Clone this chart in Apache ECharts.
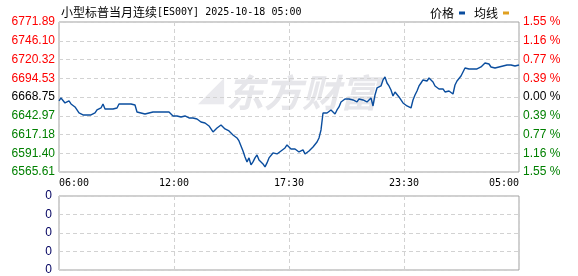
<!DOCTYPE html>
<html><head><meta charset="utf-8">
<script src="https://cdn.jsdelivr.net/npm/echarts@6/dist/echarts.min.js"></script>
<style>html,body{margin:0;padding:0;background:#fff}#c{width:578px;height:276px}</style>
</head><body><div id="c"></div>
<script>
// ---- data ----
var titleName = '小型标普当月连续';
var titleRest = '[ES00Y] 2025-10-18 05:00';
var prevClose = 6668.75;
var maxDiff = 103.14;
var timeLabels = ['06:00', '12:00', '17:30', '23:30', '05:00'];
var priceLabels = ['6565.61', '6591.40', '6617.18', '6642.97', '6668.75', '6694.53', '6720.32', '6746.10', '6771.89'];
var pctLabels = ['1.55 %', '1.16 %', '0.77 %', '0.39 %', '0.00 %', '0.39 %', '0.77 %', '1.16 %', '1.55 %'];
var volLabels = ['0', '0', '0', '0', '0'];
var totalMinutes = 1380;
var stepMinutes = 6;
var prices = [
  // 06:00 -
  6663.29, 6667.41, 6666.03, 6660.54, 6660.54, 6663.29, 6659.16, 6656.41, 6655.04, 6652.29,
  6646.79, 6645.42, 6644.05, 6646.79, 6644.05, 6645.42, 6644.05, 6645.42, 6646.79, 6650.92,
  6652.29, 6653.67, 6659.16, 6652.29, 6652.29, 6652.29, 6650.92, 6652.29, 6652.29, 6653.67,
  6659.16, 6661.91, 6659.16, 6660.54, 6659.16, 6659.16, 6659.16, 6657.79, 6657.79, 6648.17,
  6645.42, 6646.79, 6645.42, 6645.42, 6646.79, 6646.79, 6646.79, 6648.17, 6646.79, 6648.17,
  6646.79, 6648.17, 6646.79, 6648.17, 6646.79, 6648.17, 6645.42, 6642.67, 6642.67, 6642.67,
  6641.30, 6641.30, 6641.30, 6642.67, 6641.30, 6639.92, 6639.92, 6639.92, 6638.55, 6638.55,
  6637.17, 6634.43,
  // ~13:12 -
  6634.43, 6633.05, 6631.68, 6628.93, 6624.81, 6620.68, 6623.43, 6626.18, 6628.93, 6630.30,
  6627.55, 6624.81, 6623.43, 6622.06, 6619.31, 6616.56, 6613.81, 6612.44, 6608.31, 6601.44,
  6594.57, 6586.33, 6579.45, 6584.95, 6575.33, 6579.45, 6584.95, 6589.07, 6582.20, 6580.83,
  6576.71, 6572.58, 6578.08, 6584.95, 6587.70, 6591.82, 6589.07, 6590.45, 6593.20, 6594.57,
  6595.95, 6598.69, 6602.82, 6600.07, 6597.32, 6595.95, 6597.32, 6598.69, 6593.20, 6593.20,
  6595.95, 6590.45, 6589.07, 6594.57, 6597.32, 6600.07, 6602.82, 6606.94, 6612.44, 6623.43,
  6646.79,
  // ~19:18 -
  6649.54, 6646.79, 6649.54, 6650.92, 6648.17, 6645.42, 6650.92, 6655.04, 6661.91, 6664.66,
  6666.03, 6668.78, 6666.03, 6667.41, 6664.66, 6663.29, 6661.91, 6666.03, 6667.41, 6664.66,
  6666.03, 6661.91, 6664.66, 6667.41, 6656.41, 6671.53, 6681.15, 6679.78, 6683.90, 6692.15,
  6696.27, 6688.02, 6683.90, 6678.40, 6670.16, 6675.65, 6674.28, 6668.78, 6664.66, 6660.54,
  6659.16, 6656.41, 6655.04, 6653.67, 6664.66, 6671.53, 6677.03, 6683.90,
  // ~24:06 -
  6688.02, 6692.15, 6689.40, 6690.77, 6694.89, 6696.27, 6689.40, 6683.90, 6682.53, 6679.78,
  6678.40, 6679.78, 6675.65, 6674.28, 6677.03, 6675.65, 6672.91, 6685.27, 6690.77, 6693.52,
  6697.64, 6703.14, 6708.64, 6708.64, 6707.26, 6705.89, 6707.26, 6705.89, 6707.26, 6708.64,
  6710.01, 6712.76, 6715.51, 6716.88, 6714.13, 6710.01, 6711.38, 6708.64, 6705.89, 6710.01,
  6710.01, 6711.38, 6712.76, 6712.76, 6712.76, 6712.76, 6711.38, 6711.38, 6712.76, 6712.76
];
var avgLine = [];
var volumes = [];

// ---- chart ----
var yInt = maxDiff / 4;
var yMin = -4 * yInt, yMax = 4 * yInt;
var xInt = totalMinutes / 4;
var priceData = prices.map(function (p, i) { return [i * stepMinutes, p - prevClose]; });
var volData = volumes.map(function (v, i) { return [i * stepMinutes, v]; });
function yIdx(v) { return Math.round((v - yMin) / yInt); }
function sideColor(v) { var k = yIdx(v); return k > 4 ? '#ff0000' : (k < 4 ? '#008000' : '#000000'); }
var dashed = { show: true, lineStyle: { color: '#d2d2d2', type: [4, 3], width: 1 } };
var lineColor = '#0a4d9e';

var chart = echarts.init(document.getElementById('c'), null, { renderer: 'canvas' });
chart.setOption({
  animation: false,
  backgroundColor: '#ffffff',
  title: {
    text: '{cn|' + titleName + '}{en|' + titleRest + '}', left: 56, top: 1,
    textStyle: {
      fontWeight: 'normal',
      rich: {
        cn: { fontFamily: 'Noto Sans CJK SC', fontSize: 12, fontWeight: 'normal', color: '#000' },
        en: { fontFamily: 'DejaVu Sans Mono', fontSize: 10, fontWeight: 'normal', color: '#000' }
      }
    }
  },
  legend: {
    right: 64, top: 2, align: 'right', itemWidth: 6, itemHeight: 3, itemGap: 9,
    icon: 'rect',
    textStyle: { fontFamily: 'Noto Sans CJK SC', fontSize: 12, color: '#000' },
    data: ['价格', '均线']
  },
  graphic: [{
    type: 'text', left: 226, top: 74, z: -10, silent: true,
    style: { text: '东方财富', fontSize: 38, fontWeight: 'bold', fontStyle: 'italic', fontFamily: 'Noto Sans CJK SC', fill: '#e6e6ea' }
  }, {
    type: 'text', left: 198, top: 74, z: -10, silent: true,
    style: { text: '◢', fontSize: 34, fontFamily: 'DejaVu Sans', fill: '#eaeaee' }
  }],
  grid: [
    { left: 59, right: 59, top: 22, height: 150, show: true, borderColor: '#a0a0a0', borderWidth: 1, backgroundColor: 'transparent' },
    { left: 59, right: 59, top: 196, height: 74, show: true, borderColor: '#a0a0a0', borderWidth: 1, backgroundColor: 'transparent' }
  ],
  xAxis: [
    {
      type: 'value', gridIndex: 0, min: 0, max: totalMinutes, interval: xInt,
      axisLine: { show: false }, axisTick: { show: false }, splitLine: dashed,
      axisLabel: {
        show: true, margin: 6, showMinLabel: true, showMaxLabel: true,
        alignMinLabel: 'left', alignMaxLabel: 'right',
        fontFamily: 'DejaVu Sans Mono', fontSize: 10, color: '#000',
        formatter: function (v) { return timeLabels[Math.round(v / xInt)]; }
      }
    },
    {
      type: 'value', gridIndex: 1, min: 0, max: totalMinutes, interval: xInt,
      axisLine: { show: false }, axisTick: { show: false }, splitLine: dashed, axisLabel: { show: false }
    }
  ],
  yAxis: [
    {
      type: 'value', gridIndex: 0, position: 'left', min: yMin, max: yMax, interval: yInt,
      axisLine: { show: false }, axisTick: { show: false }, splitLine: dashed,
      axisLabel: {
        margin: 4, fontFamily: 'Liberation Sans', fontSize: 12, showMinLabel: true, showMaxLabel: true,
        formatter: function (v) { return priceLabels[yIdx(v)]; },
        color: function (v) { return sideColor(v); }
      }
    },
    {
      type: 'value', gridIndex: 0, position: 'right', min: yMin, max: yMax, interval: yInt,
      axisLine: { show: false }, axisTick: { show: false }, splitLine: { show: false },
      axisLabel: {
        margin: 4, fontFamily: 'Liberation Sans', fontSize: 12, showMinLabel: true, showMaxLabel: true,
        formatter: function (v) { return pctLabels[yIdx(v)]; },
        color: function (v) { return sideColor(v); }
      }
    },
    {
      type: 'value', gridIndex: 1, min: 0, max: 4, interval: 1,
      axisLine: { show: false }, axisTick: { show: false }, splitLine: dashed,
      axisLabel: {
        margin: 7, fontFamily: 'Liberation Sans', fontSize: 12, color: '#000060', showMinLabel: true, showMaxLabel: true,
        formatter: function (v) { return volLabels[Math.round(v)]; }
      }
    }
  ],
  series: [
    { name: '价格', type: 'line', xAxisIndex: 0, yAxisIndex: 0, data: priceData, showSymbol: false, symbol: 'none',
      lineStyle: { color: lineColor, width: 1.4 }, itemStyle: { color: lineColor }, z: 5 },
    { name: '均线', type: 'line', xAxisIndex: 0, yAxisIndex: 0, data: avgLine, showSymbol: false,
      lineStyle: { color: '#e0a020', width: 1 }, itemStyle: { color: '#e0a020' } },
    { name: '成交量', type: 'bar', xAxisIndex: 1, yAxisIndex: 2, data: volData, itemStyle: { color: lineColor } }
  ]
});
</script>
</body></html>
